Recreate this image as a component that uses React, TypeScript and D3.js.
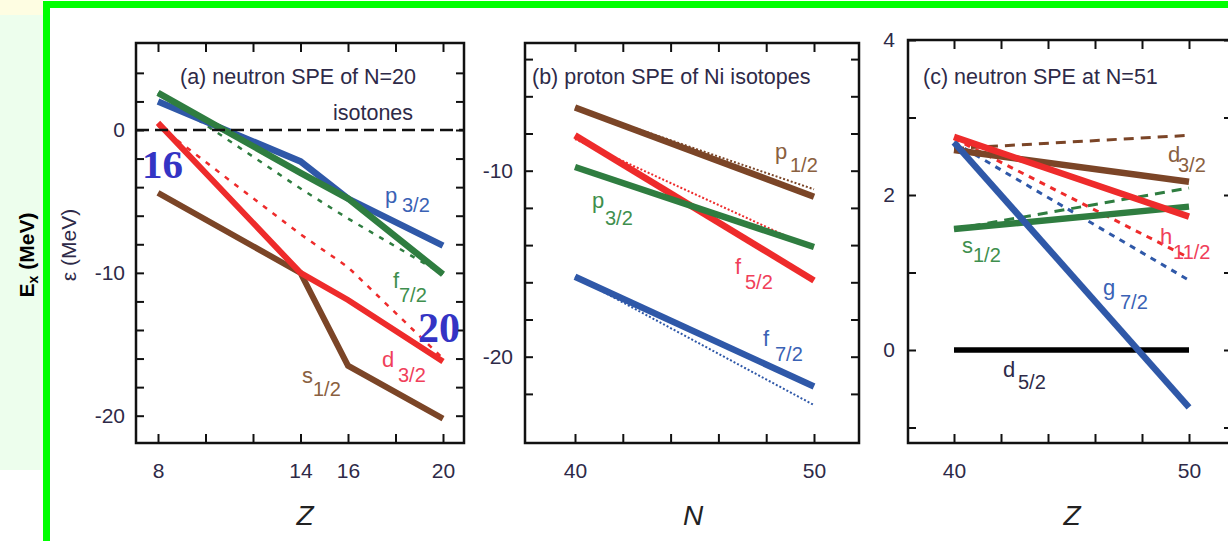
import React, { useEffect, useRef } from "react";
import * as d3 from "d3";

// (a) neutron SPE of N=20 isotones, x = Z
const zA = [8, 14, 16, 20];
const aP32 = [2.0, -2.2, -4.8, -8.1];
const aF72 = [2.6, -3.0, -4.8, -10.1];
const aF72Dash = [2.6, -4.1, -6.2, -10.1];
const aD32 = [0.5, -10.0, -11.9, -16.2];
const aD32Dash = [0.3, -7.3, -9.6, -16.0];
const aS12 = [-4.4, -10.0, -16.5, -20.2];
const aXTicks = [8, 10, 12, 14, 16, 18, 20];
const aXLabels = [8, 14, 16, 20];
const aYTicks = [-20, -18, -16, -14, -12, -10, -8, -6, -4, -2, 0, 2, 4];
const aYLabels = [0, -10, -20];

// (b) proton SPE of Ni isotopes, x = N
const nB = [40, 50];
const bP12 = [-6.6, -11.4];
const bP12Dot = [-6.6, -11.0];
const bF52 = [-8.1, -15.9];
const bF52Dot = [-8.3, -14.2];
const bP32 = [-9.8, -14.1];
const bF72 = [-15.7, -21.6];
const bF72Dot = [-15.7, -22.6];
const bXTicks = [40, 42, 44, 46, 48, 50];
const bXLabels = [40, 50];
const bYTicks = [-22, -20, -18, -16, -14, -12, -10, -8, -6, -4];
const bYLabels = [-10, -20];

// (c) neutron SPE at N=51, x = Z
const zC = [40, 50];
const cD52 = [0, 0];
const cG72 = [2.68, -0.74];
const cG72Dash = [2.68, 0.9];
const cH112 = [2.75, 1.72];
const cH112Dash = [2.73, 1.19];
const cD32 = [2.58, 2.17];
const cD32Dash = [2.6, 2.77];
const cS12 = [1.56, 1.85];
const cS12Dash = [1.56, 2.09];
const cXTicks = [40, 42, 44, 46, 48, 50];
const cXLabels = [40, 50];
const cYTicks = [-1, 0, 1, 2, 3, 4];
const cYLabels = [0, 2, 4];

const FONT = "'Liberation Sans', Arial, sans-serif";
const INK = "#2e2a48";
const BLUE = "#2f58a8";
const GREEN = "#2f7d40";
const RED = "#ee2b2b";
const BROWN = "#7b4527";

function drawPanel(svg, opt) {
    const { x, y, box, xTicks, xLabels, yTicks, yLabels, series } = opt;
    const g = svg.append("g");

    const line = d3.line().x(d => x(d[0])).y(d => y(d[1]));

    series.forEach(s => {
        g.append("path")
            .datum(s.xs.map((v, i) => [v, s.ys[i]]))
            .attr("d", line)
            .attr("fill", "none")
            .attr("stroke", s.color)
            .attr("stroke-width", s.width)
            .attr("stroke-dasharray", s.dash || null)
            .attr("stroke-linecap", "butt");
    });

    const fmt = labels => d => (labels.includes(d) ? String(d) : "");
    const style = a => {
        a.select(".domain").remove();
        a.selectAll("line").attr("stroke", "#111").attr("stroke-width", 2);
        a.selectAll("text").attr("fill", INK);
        a.attr("font-family", FONT).attr("font-size", 21);
    };

    g.append("g")
        .attr("transform", `translate(0,${box.y1})`)
        .call(d3.axisBottom(x).tickValues(xTicks).tickSizeInner(-9).tickSizeOuter(0).tickPadding(20).tickFormat(fmt(xLabels)))
        .call(style);
    g.append("g")
        .attr("transform", `translate(0,${box.y0})`)
        .call(d3.axisTop(x).tickValues(xTicks).tickSizeInner(-9).tickSizeOuter(0).tickFormat(() => ""))
        .call(style);
    g.append("g")
        .attr("transform", `translate(${box.x0},0)`)
        .call(d3.axisLeft(y).tickValues(yTicks).tickSizeInner(-8).tickSizeOuter(0).tickPadding(opt.yPad).tickFormat(fmt(yLabels)))
        .call(style);
    g.append("g")
        .attr("transform", `translate(${box.x1},0)`)
        .call(d3.axisRight(y).tickValues(yTicks).tickSizeInner(-8).tickSizeOuter(0).tickFormat(() => ""))
        .call(style);

    g.append("rect")
        .attr("x", box.x0).attr("y", box.y0)
        .attr("width", box.x1 - box.x0).attr("height", box.y1 - box.y0)
        .attr("fill", "none").attr("stroke", "#111").attr("stroke-width", 2.5);

    return g;
}

function text(g, x, y, str, size, color, extra = {}) {
    const t = g.append("text")
        .attr("x", x).attr("y", y)
        .attr("font-family", FONT).attr("font-size", size)
        .attr("fill", color).text(str);
    Object.entries(extra).forEach(([k, v]) => t.attr(k, v));
    return t;
}

function orbital(g, x, y, l, frac, color, sx, sy) {
    text(g, x, y, l, 22, color);
    text(g, sx, sy, frac, 20, color);
}

export default function App() {
    const ref = useRef(null);

    useEffect(() => {
        const svg = d3.select(ref.current);
        svg.selectAll("*").remove();

        // page background pieces
        svg.append("rect").attr("x", 0).attr("y", 0).attr("width", 43).attr("height", 15).attr("fill", "#fefde2");
        svg.append("rect").attr("x", 0).attr("y", 15).attr("width", 43).attr("height", 455).attr("fill", "#edfeed");

        // ---- panel (a)
        const xa = d3.scaleLinear().domain([8, 20]).range([158, 443]);
        const ya = d3.scaleLinear().domain([0, -20]).range([130, 415.7]);
        const ga = drawPanel(svg, {
            x: xa, y: ya, box: { x0: 136, x1: 464, y0: 43, y1: 443 },
            xTicks: aXTicks, xLabels: aXLabels, yTicks: aYTicks, yLabels: aYLabels, yPad: 11,
            series: [
                { xs: zA, ys: aF72Dash, color: GREEN, width: 2.5, dash: "5,7" },
                { xs: zA, ys: aD32Dash, color: RED, width: 2.5, dash: "5,7" },
                { xs: zA, ys: aS12, color: BROWN, width: 6 },
                { xs: zA, ys: aD32, color: RED, width: 6 },
                { xs: zA, ys: aP32, color: BLUE, width: 6.5 },
                { xs: zA, ys: aF72, color: GREEN, width: 6.5 },
            ],
        });
        ga.append("line")
            .attr("x1", 136).attr("x2", 464)
            .attr("y1", ya(0)).attr("y2", ya(0))
            .attr("stroke", "#111").attr("stroke-width", 2.5).attr("stroke-dasharray", "13,6");
        text(ga, 180, 84, "(a) neutron SPE of N=20", 21.5, INK);
        text(ga, 333, 120, "isotones", 21.5, INK);
        orbital(ga, 385, 203, "p", "3/2", "#3a62b5", 402, 212);
        orbital(ga, 393, 288, "f", "7/2", "#3f8f4e", 399, 302);
        orbital(ga, 382, 367, "d", "3/2", "#f0405a", 398, 382);
        orbital(ga, 302, 383, "s", "1/2", "#8a6040", 313, 396);
        text(ga, 305, 525, "Z", 28, "#222", { "text-anchor": "middle", "font-style": "italic" });
        text(ga, 0, 0, "ε (MeV)", 21, INK, { transform: "translate(76,245) rotate(-90)", "text-anchor": "middle" });

        // ---- panel (b)
        const xb = d3.scaleLinear().domain([40, 50]).range([575, 814]);
        const yb = d3.scaleLinear().domain([-10, -20]).range([170.7, 356.7]);
        const gb = drawPanel(svg, {
            x: xb, y: yb, box: { x0: 525, x1: 859, y0: 43, y1: 443 },
            xTicks: bXTicks, xLabels: bXLabels, yTicks: bYTicks, yLabels: bYLabels, yPad: 12,
            series: [
                { xs: nB, ys: bP12Dot, color: BROWN, width: 2, dash: "2,2" },
                { xs: nB, ys: bF52Dot, color: RED, width: 2, dash: "2,2" },
                { xs: nB, ys: bF72Dot, color: BLUE, width: 2, dash: "2,2" },
                { xs: nB, ys: bP12, color: BROWN, width: 6.5 },
                { xs: nB, ys: bF52, color: RED, width: 6.5 },
                { xs: nB, ys: bP32, color: GREEN, width: 6.5 },
                { xs: nB, ys: bF72, color: BLUE, width: 6.5 },
            ],
        });
        text(gb, 532, 84, "(b) proton SPE of Ni isotopes", 21.5, INK);
        orbital(gb, 775, 159, "p", "1/2", "#8a6040", 790, 172);
        orbital(gb, 592, 208, "p", "3/2", "#3f8f4e", 605, 225);
        orbital(gb, 735, 274, "f", "5/2", "#f0405a", 745, 289);
        orbital(gb, 763, 346, "f", "7/2", "#3a62b5", 775, 361);
        text(gb, 693, 525, "N", 28, "#222", { "text-anchor": "middle", "font-style": "italic" });

        // ---- panel (c)
        const xc = d3.scaleLinear().domain([40, 50]).range([954, 1189]);
        const yc = d3.scaleLinear().domain([0, 2]).range([350, 195]);
        const gc = drawPanel(svg, {
            x: xc, y: yc, box: { x0: 908, x1: 1232, y0: 40, y1: 443 },
            xTicks: cXTicks, xLabels: cXLabels, yTicks: cYTicks, yLabels: cYLabels, yPad: 13,
            series: [
                { xs: zC, ys: cD32Dash, color: BROWN, width: 3, dash: "10,7" },
                { xs: zC, ys: cS12Dash, color: GREEN, width: 3, dash: "10,7" },
                { xs: zC, ys: cG72Dash, color: BLUE, width: 3, dash: "6,6" },
                { xs: zC, ys: cH112Dash, color: RED, width: 3, dash: "6,6" },
                { xs: zC, ys: cD52, color: "#000", width: 5.5 },
                { xs: zC, ys: cD32, color: BROWN, width: 6.5 },
                { xs: zC, ys: cS12, color: GREEN, width: 6.5 },
                { xs: zC, ys: cG72, color: BLUE, width: 6.5 },
                { xs: zC, ys: cH112, color: RED, width: 6.5 },
            ],
        });
        text(gc, 923, 84, "(c) neutron SPE at N=51", 21.5, INK);
        orbital(gc, 1168, 162, "d", "3/2", "#8a6040", 1178, 172);
        orbital(gc, 1160, 244, "h", "11/2", "#f0405a", 1173, 259);
        orbital(gc, 962, 253, "s", "1/2", "#3f8f4e", 973, 262);
        orbital(gc, 1103, 295, "g", "7/2", "#3a62b5", 1120, 309);
        orbital(gc, 1003, 377, "d", "5/2", INK, 1018, 389);
        text(gc, 1072, 525, "Z", 28, "#222", { "text-anchor": "middle", "font-style": "italic" });

        // overlaid shell-closure numbers
        text(svg, 142, 178, "16", 41, "#3434c4", { "font-family": "'Liberation Serif', serif", "font-weight": "bold" });
        text(svg, 418, 342, "20", 42, "#3434c4", { "font-family": "'Liberation Serif', serif", "font-weight": "bold" });

        // green slide border
        svg.append("rect").attr("x", 43).attr("y", 1).attr("width", 7).attr("height", 540).attr("fill", "#00ff00");
        svg.append("rect").attr("x", 43).attr("y", 1).attr("width", 1185).attr("height", 7).attr("fill", "#00ff00");

        // outer axis title
        const ex = svg.append("text")
            .attr("transform", "translate(34,255) rotate(-90)")
            .attr("text-anchor", "middle")
            .attr("font-family", FONT).attr("font-weight", "bold").attr("font-size", 21)
            .attr("fill", "#000");
        ex.append("tspan").text("E");
        ex.append("tspan").attr("font-size", 14).attr("dy", 4).text("x");
        ex.append("tspan").attr("dy", -4).text(" (MeV)");
    }, []);

    return (
        <svg
            ref={ref}
            width={1228}
            height={541}
            style={{ position: "absolute", left: 0, top: 0, display: "block", background: "#fff" }}
        />
    );
}
